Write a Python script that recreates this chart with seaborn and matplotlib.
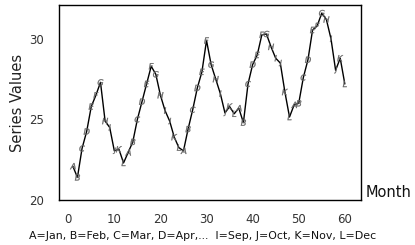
import matplotlib
matplotlib.use("Agg")
import matplotlib.pyplot as plt
import seaborn as sns
import pandas as pd

months = list(range(1, 61))
values = [22.1, 21.4, 23.2, 24.25, 25.8, 26.5, 27.3, 24.9, 24.5, 23.05, 23.15, 22.3,
          22.95, 23.6, 25.0, 26.1, 27.2, 28.3, 27.8, 26.5, 25.55, 24.9, 23.9, 23.25,
          23.05, 24.4, 25.6, 26.95, 27.95, 29.9, 28.4, 27.5, 26.6, 25.4, 25.8, 25.35,
          25.7, 24.8, 27.2, 28.4, 29.0, 30.25, 30.3, 29.5, 28.8, 28.5, 26.7, 25.15,
          25.9, 26.0, 27.6, 28.7, 30.55, 30.8, 31.6, 31.2, 30.0, 28.05, 28.8, 27.2]
letters_cycle = list("ABCDEFGHIJKL")
month_letters = [letters_cycle[(m - 1) % 12] for m in months]
x_ticks = [0, 10, 20, 30, 40, 50, 60]
y_ticks = [20, 25, 30]

df = pd.DataFrame({"Month": months, "Value": values, "Letter": month_letters})

sns.set_style("white")
plt.rcParams['font.family'] = ['DejaVu Sans']

fig = plt.figure(figsize=(4.15, 2.45), dpi=100)
ax = fig.add_axes([59 / 415, 1 - 200 / 245, (360.5 - 59) / 415, (200 - 5) / 245])

sns.lineplot(data=df, x="Month", y="Value", ax=ax, color="black", linewidth=1.0)
markers = {l: f"${l}$" for l in letters_cycle}
sns.scatterplot(data=df, x="Month", y="Value", style="Letter", markers=markers,
                ax=ax, color="#666666", s=20, linewidth=0.2, edgecolor="#666666",
                legend=False, zorder=3)

ax.set_xlim(-2.0, 63.4)
ax.set_ylim(20, 32.1)
ax.set_xticks(x_ticks)
ax.set_yticks(y_ticks)
ax.set_xlabel("")
ax.set_ylabel("Series Values", fontsize=10.5, color="#222222", labelpad=3)
for s in ax.spines.values():
    s.set_color("black")
    s.set_linewidth(1.0)
    s.set_visible(True)
ax.tick_params(axis="x", direction="out", length=6, width=0.9, colors="black",
               labelcolor="#333333", labelsize=8.5, pad=3)
ax.tick_params(axis="y", direction="out", length=8, width=0.9, colors="black",
               labelcolor="#333333", labelsize=8.5, pad=3)

fig.text(366 / 415, 1 - 200 / 245, "Month", fontsize=10.5, color="#111111",
         ha="left", va="bottom")
fig.text(203 / 415, 1 - 236 / 245,
         "A=Jan, B=Feb, C=Mar, D=Apr,...  I=Sep, J=Oct, K=Nov, L=Dec",
         fontsize=7.9, color="#111111", ha="center", va="center")

fig.savefig("out.png", dpi=100)
